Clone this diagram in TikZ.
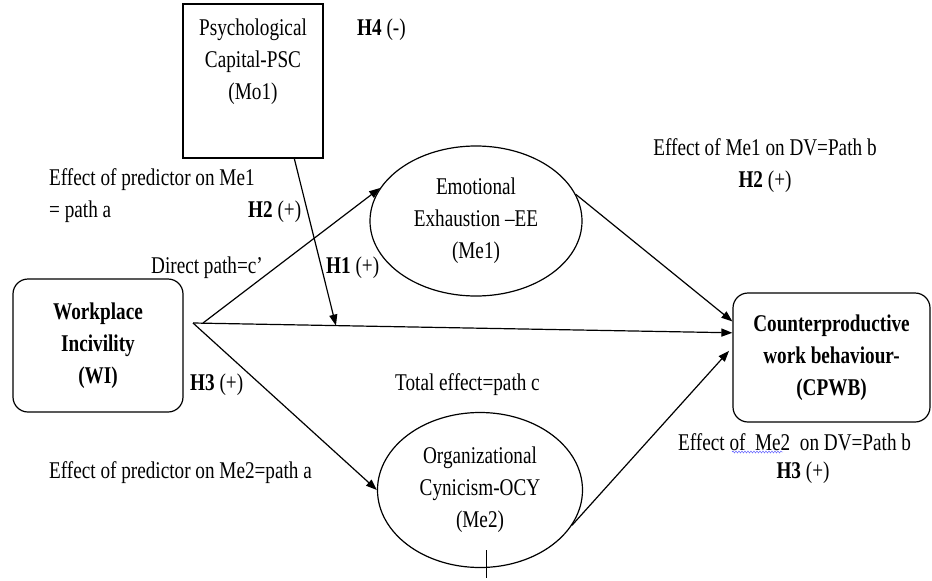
\documentclass[tikz,border=0pt]{standalone}
\usepackage{fontspec}
\setmainfont[FakeStretch=0.8]{Liberation Serif}
\usetikzlibrary{arrows.meta}
\usetikzlibrary{shapes.geometric}
\usetikzlibrary{decorations.pathmorphing}

\begin{document}
\begin{tikzpicture}[x=1pt,y=-1pt,
	lbl/.style={font=\fontsize{24}{32}\selectfont, inner sep=0pt, align=center},
	bold/.style={font=\fontsize{24}{32}\selectfont\bfseries},
	rbox/.style={lbl, draw, line width=1.2pt, rounded corners=15pt},
	oval/.style={lbl, draw, ellipse, line width=1.2pt},
	arr/.style={line width=1.2pt, -{Triangle[length=11pt,width=8pt]}}]
		\useasboundingbox (0,0) rectangle (932,581);

		%% variables
		\node[draw, line width=1.4pt, minimum width=140pt, minimum height=154pt] (PSC) at (253,81) {};
		\node[lbl] (PSCtxt) at (253,62) {Psychological\\Capital-PSC\\(Mo1)};
		\node[rbox, bold, minimum width=170pt, minimum height=133pt] (WI) at (98,345.5) {Workplace\\Incivility\\(WI)};
		\node[oval, minimum width=212pt, minimum height=150pt] (EE) at (476,221) {Emotional\\Exhaustion –EE\\(Me1)};
		\node[oval, minimum width=205pt, minimum height=155pt] (OCY) at (480,490) {Organizational\\Cynicism-OCY\\(Me2)};
		\node[rbox, bold, minimum width=197pt, minimum height=129pt] (CPWB) at (831.5,357.5) {Counterproductive\\work behaviour-\\(CPWB)};

		\coordinate (WIa) at (193,323);
		\coordinate (WIb) at (203,323);

		%% paths
		\draw[arr] (WIb) -- (EE.161);
		\draw[arr] (WIa) -- coordinate[pos=0.265] (MOD) (CPWB.166);
		\draw[arr] (WIa) -- (OCY.west);
		\draw[arr] (EE.15) -- (CPWB.160);
		\draw[arr, shorten >=5pt] (OCY.339) -- (CPWB.174);
		\draw[arr] (PSC.-62.5) -- (MOD);

		%% labels
		\node[lbl, anchor=west] (H4) at (357,30) {\textbf{H4} (-)};
		\node[lbl, anchor=west] (pa1) at (49,180) {Effect of predictor on Me1};
		\node[lbl, anchor=west] (pa1b) at (49,212) {= path a};
		\node[lbl, anchor=west] (H2a) at (248,212) {\textbf{H2} (+)};
		\node[lbl, anchor=west] (pc1) at (151,268) {Direct path=c’};
		\node[lbl, anchor=west] (H1) at (326,268) {\textbf{H1} (+)};
		\node[lbl] (pb1) at (765,147) {Effect of Me1 on DV=Path b};
		\node[lbl] (H2b) at (765,182) {\textbf{H2} (+)};
		\node[lbl, anchor=west] (H3a) at (190,385) {\textbf{H3} (+)};
		\node[lbl, anchor=west] (pc) at (395,385) {Total effect=path c};
		\node[lbl, anchor=west] (pa2) at (49,473) {Effect of predictor on Me2=path a};
		\node[lbl, anchor=west] (pb2) at (678,442) {Effect of~ Me2~ on DV=Path b};
		\node[lbl] (H3b) at (803,473) {\textbf{H3} (+)};

		%\draw[blue!70, decorate, decoration={snake, amplitude=1pt, segment length=3pt}] (732,452) -- (783,452);
		\draw[blue!70, decorate, decoration={snake, amplitude=1pt, segment length=3pt}] (732,452) -- (783,452);
		\draw[line width=1pt] (486,550) -- (486,578);
	\end{tikzpicture}
\end{document}
